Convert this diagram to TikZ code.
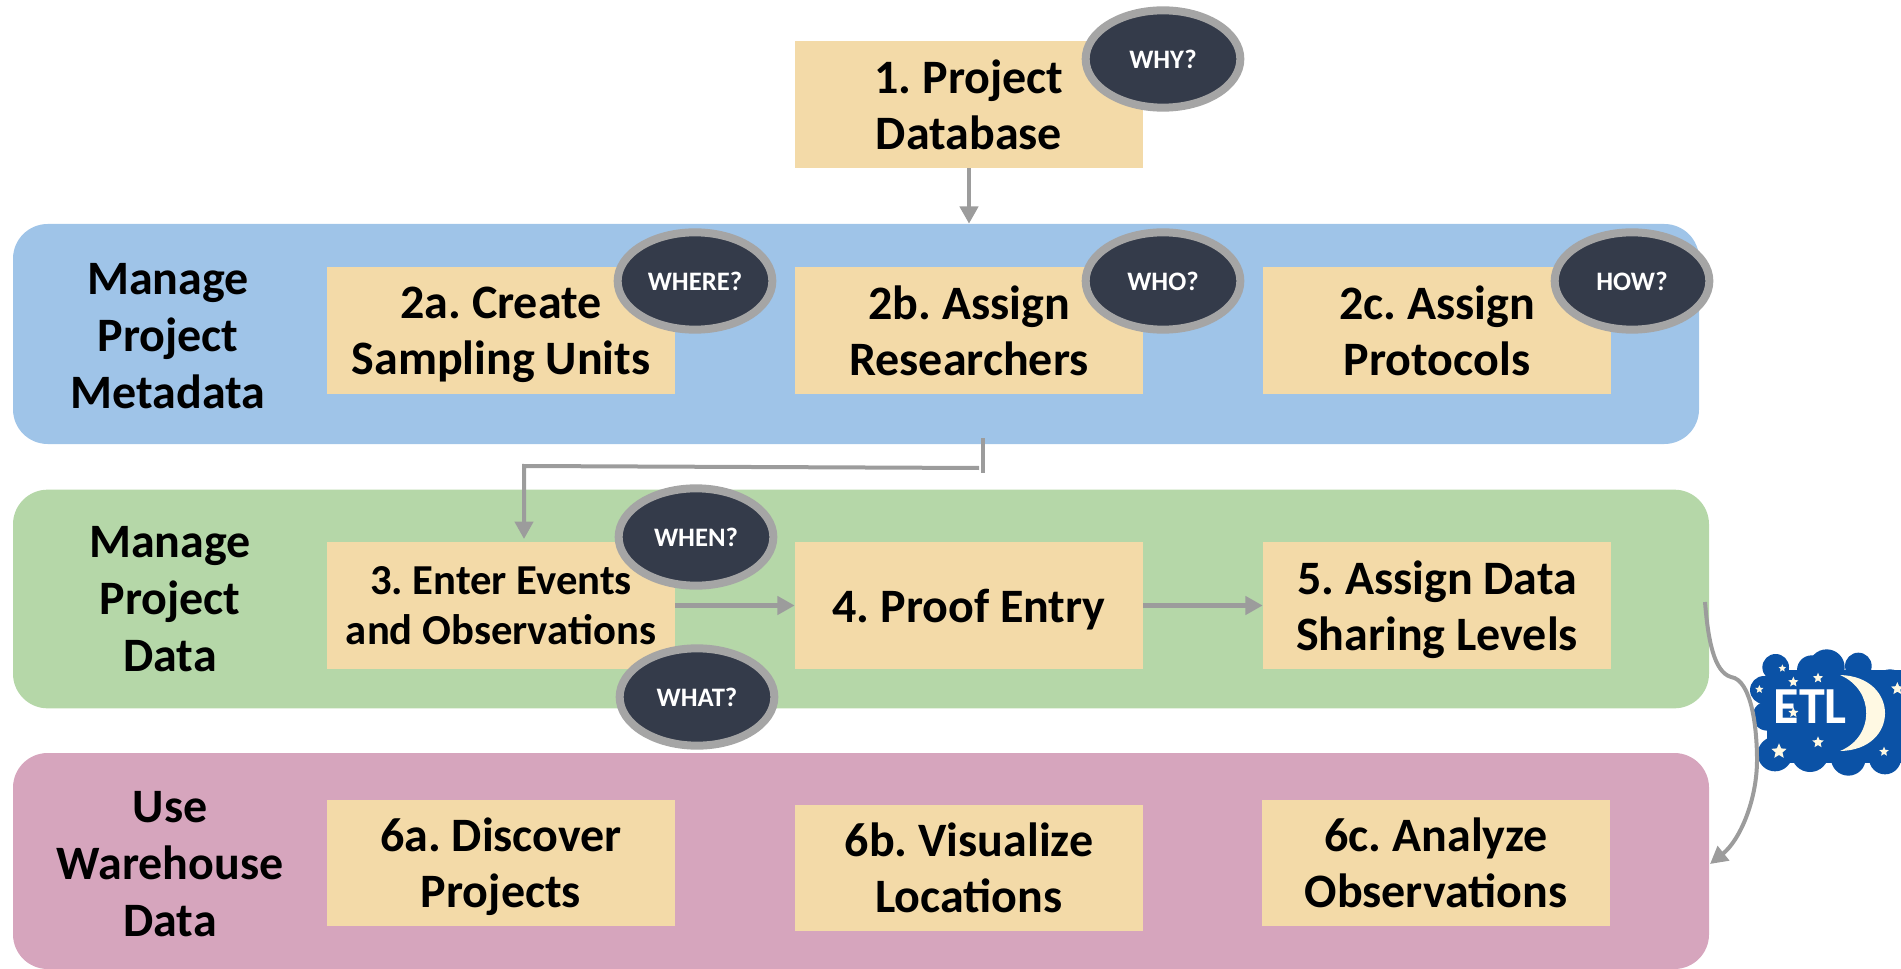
\documentclass[tikz,border=0pt]{standalone}
\usepackage{fontspec}
\setmainfont{Carlito}
\usetikzlibrary{arrows.meta,shapes.geometric}
\definecolor{taskfill}{HTML}{F3DAA8}
\definecolor{metablue}{HTML}{9FC4E8}
\definecolor{datagreen}{HTML}{B5D7A8}
\definecolor{usepink}{HTML}{D6A5BD}
\definecolor{askfill}{HTML}{343B4A}
\definecolor{askline}{HTML}{A5A5A5}
\definecolor{flowgray}{HTML}{9C9C9C}
\definecolor{cloudblue}{HTML}{0B52A6}
\definecolor{mooncream}{HTML}{FFF9E3}
\frenchspacing
\begin{document}
\begin{tikzpicture}[x=.75pt,y=-.75pt,node distance=351pt,
        task node/.style={rectangle,fill=taskfill,inner sep=0pt,minimum width=261pt,minimum height=95pt,align=center,text depth=0pt,font=\bfseries\fontsize{36}{42}\selectfont},
        band node/.style={rectangle,rounded corners=26pt,inner sep=0pt},
        band text/.style={align=center,text depth=0pt,font=\bfseries\fontsize{36}{42.5}\selectfont},
        ask node/.style={ellipse,fill=askfill,draw=askline,line width=6pt,inner sep=0pt,minimum width=116pt,minimum height=73pt,text=white,font=\bfseries\fontsize{20}{22}\selectfont},
        flow/.style={-{Triangle[length=13pt,width=13.5pt]},color=flowgray,line width=3.6pt},
        thin flow/.style={draw=flowgray,line width=3pt},
        sky star/.style={star,star points=5,star point ratio=2.2,fill=mooncream,inner sep=0pt}]
            \useasboundingbox (0,0) rectangle (1901,969);

            \node[band node,fill=metablue,minimum width=1264.5pt,minimum height=165pt] (meta) at (856,334){};
            \node[band node,fill=datagreen,minimum width=1272pt,minimum height=164pt] (data) at (861,599){};
            \node[band node,fill=usepink,minimum width=1272pt,minimum height=162pt] (ware) at (861,861){};

            \node[band text] (metatext) at (168,336){Manage\\Project\\Metadata};
            \node[band text] (datatext) at (170,599){Manage\\Project\\Data};
            \node[band text] (waretext) at (170,864){Use\\Warehouse\\Data};

            \node[task node] (1) at (969,104.5){1. Project\\Database};
            \node[task node] (2b) at (969,330.5){2b. Assign\\Researchers};
            \node[task node] (2a) [left of = 2b]{2a. Create\\Sampling Units};
            \node[task node] (2c) [right of = 2b]{2c. Assign\\Protocols};
            \node[task node] (4) at (969,605.5){4. Proof Entry};
            \node[task node,font=\bfseries\fontsize{32}{38}\selectfont] (3) [left of = 4]{3. Enter Events\\and Observations};
            \node[task node] (5) [right of = 4]{5. Assign Data\\Sharing Levels};
            \node[task node] (6a) at (501,863){6a. Discover\\Projects};
            \node[task node] (6b) at (969,868){6b. Visualize\\Locations};
            \node[task node] (6c) at (1436,863){6c. Analyze\\Observations};

            \node[ask node] (why) at (1163,59){WHY?};
            \node[ask node] (where) at (695,281){WHERE?};
            \node[ask node] (who) at (1163,281){WHO?};
            \node[ask node] (how) at (1632,281){HOW?};
            \node[ask node] (when) at (696,537){WHEN?};
            \node[ask node] (what) at (697,697){WHAT?};

            \begin{scope}[shift={(1680,580)},x=.25pt,y=-.25pt]
                \fill[cloudblue] (260,270) rectangle (720,550);
                \fill[cloudblue] (287,262) circle[radius=10pt];
                \fill[cloudblue] (252,330) circle[radius=10.5pt];
                \fill[cloudblue] (262,408) circle[radius=11pt];
                \fill[cloudblue] (285,522) circle[radius=13pt];
                \fill[cloudblue] (395,270) circle[radius=11pt];
                \fill[cloudblue] (440,262) circle[radius=13.5pt];
                \fill[cloudblue] (535,258) circle[radius=10pt];
                \fill[cloudblue] (630,318) circle[radius=12.5pt];
                \fill[cloudblue] (390,520) circle[radius=14pt];
                \fill[cloudblue] (505,535) circle[radius=13pt];
                \fill[cloudblue] (615,535) circle[radius=12pt];
                \fill[mooncream] (480,285) .. controls (660,290) and (660,510) .. (480,513) .. controls (585,470) and (585,330) .. (480,285);
                \node[sky star,minimum size=12pt] (star1) at (297,514){};
                \node[sky star,minimum size=9pt] (star2) at (414,487){};
                \node[sky star,minimum size=7.5pt] (star3) at (612,515){};
                \node[sky star,minimum size=8pt] (star4) at (340,398){};
                \node[sky star,minimum size=8pt] (star5) at (340,306){};
                \node[sky star,minimum size=8pt] (star6) at (414,294){};
                \node[sky star,minimum size=6pt] (star7) at (307,265){};
                \node[sky star,minimum size=6.5pt] (star8) at (238,328){};
                \node[sky star,minimum size=10pt] (star9) at (652,326){};
                \node[text=white,font=\bfseries\fontsize{39}{39}\selectfont,inner sep=0pt] (etl) at (391,380){ETL};
            \end{scope}

            \coordinate (tickup) at (983,438);
            \coordinate (tickdown) at (983,473);
            \coordinate (barright) at (979,468);
            \coordinate (barleft) at (524,466);
            \coordinate (dropend) at (524,539);
            \coordinate (etlstart) at (1705,602);
            \coordinate (etlbend) at (1731,677);
            \coordinate (etlend) at (1710,864);

            \path[flow]
                (1) edge (1 |- meta.north)
                (3) edge (4)
                (4) edge (5)
                ;
            \draw[thin flow] (tickup) -- (tickdown);
            \draw[flow,line width=3pt] (barright) -- (barleft) -- (dropend);
            \draw[flow,line width=3pt] (etlstart) .. controls (1708,640) and (1714,672) .. (etlbend) .. controls (1752,680) and (1757,730) .. (1757,760) .. controls (1757,800) and (1740,840) .. (etlend);
        \end{tikzpicture}
\end{document}
